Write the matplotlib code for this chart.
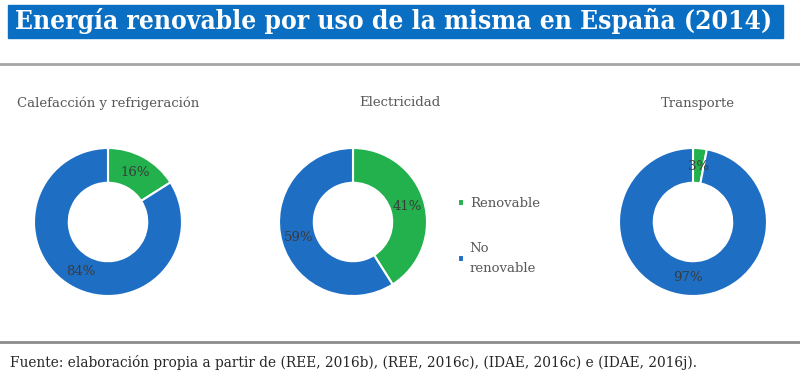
import matplotlib.pyplot as plt
from matplotlib.patches import Rectangle
from matplotlib.lines import Line2D

titulo = 'Energía renovable por uso de la misma en España (2014)'
usos = ['Calefacción y refrigeración', 'Electricidad', 'Transporte']
renovable = [16, 41, 3]
no_renovable = [84, 59, 97]
etiquetas = ['Renovable', 'No\nrenovable']
fuente = 'Fuente: elaboración propia a partir de (REE, 2016b), (REE, 2016c), (IDAE, 2016c) e (IDAE, 2016j).'

verde = '#22B14C'
azul = '#1E6FC4'
gris = '#595959'

W, H = 800, 390
fig = plt.figure(figsize=(8, 3.9), dpi=100)

def px(x0, y0, w, h):
    # caja en pixeles (desde arriba) a coordenadas de figura
    return [x0 / W, (H - y0 - h) / H, w / W, h / H]

# barra del titulo
fig.patches.append(Rectangle((8 / W, (H - 38) / H), 775 / W, 33 / H,
                             transform=fig.transFigure, color='#0A6FC2', zorder=0))
fig.text(15 / W, (H - 21.5) / H, titulo, color='white', fontsize=18.9,
         fontweight='bold', family='DejaVu Serif', fontstretch='condensed',
         va='center', ha='left')

# lineas grises
fig.add_artist(Line2D([0, 1], [(H - 64) / H] * 2, color='#A6A6A6', lw=2,
                      transform=fig.transFigure))
fig.add_artist(Line2D([0, 1], [(H - 342) / H] * 2, color='#8C8C8C', lw=2,
                      transform=fig.transFigure))

centros = [(108, 222), (353, 222), (693, 222)]
titulos_x = [108, 400, 698]
radio = 74

for i, uso in enumerate(usos):
    cx, cy = centros[i]
    ax = fig.add_axes(px(cx - radio, cy - radio, 2 * radio, 2 * radio))
    valores = [renovable[i], no_renovable[i]]
    wedges, textos, autotextos = ax.pie(
        valores, colors=[verde, azul], startangle=90, counterclock=False,
        autopct=lambda p: f'{round(p)}%', pctdistance=0.76,
        wedgeprops=dict(width=0.47, edgecolor='white', linewidth=1.5),
        textprops=dict(color='#3A3A3A', fontsize=9.5, family='DejaVu Serif'))
    ax.set_xlim(-1, 1)
    ax.set_ylim(-1, 1)
    ax.set_aspect('equal')
    fig.text(titulos_x[i] / W, (H - 103) / H, uso, color=gris, fontsize=9.5,
             family='DejaVu Serif', ha='center', va='center')
    if i == 1:
        leyenda_handles = wedges

leg = fig.legend(leyenda_handles, etiquetas, loc='upper left',
                 bbox_to_anchor=(446 / W, (H - 185) / H), frameon=False,
                 handlelength=0.45, handleheight=0.45, handletextpad=0.45,
                 labelspacing=2.4, prop=dict(family='DejaVu Serif', size=9.5),
                 labelcolor=gris)
for t in leg.get_texts():
    t.set_linespacing(1.7)

fig.text(10 / W, (H - 362) / H, fuente, color='#262626', fontsize=11,
         family='DejaVu Serif', fontstretch='condensed', ha='left', va='center')

fig.savefig('out.png', dpi=100)
